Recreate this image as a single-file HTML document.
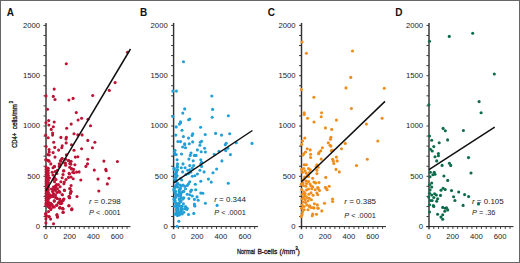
<!DOCTYPE html>
<html><head><meta charset="utf-8"><style>
html,body{margin:0;padding:0;background:#fff;}
body{width:520px;height:263px;overflow:hidden;}
svg{display:block;}
text{font-family:"Liberation Sans", sans-serif;fill:#222;}
.tl{font-size:7px;}
.lt{font-size:10px;font-weight:bold;fill:#111;}
.st{font-size:7px;}
.ax text{font-size:8px;fill:#222;stroke:#222;stroke-width:0.35px;}
</style></head><body>
<svg width="520" height="263" viewBox="0 0 520 263">
<rect x="0.5" y="0.5" width="519" height="262" fill="#fff" stroke="#666" stroke-width="1"/>
<line x1="46.00" y1="22.9" x2="46.00" y2="229.20" stroke="#333" stroke-width="1.45"/>
<line x1="43.10" y1="226.6" x2="130.50" y2="226.6" stroke="#222" stroke-width="1"/>
<line x1="43.50" y1="226.60" x2="45.70" y2="226.60" stroke="#222" stroke-width="0.9"/>
<line x1="43.50" y1="216.54" x2="45.70" y2="216.54" stroke="#222" stroke-width="0.9"/>
<line x1="43.50" y1="206.48" x2="45.70" y2="206.48" stroke="#222" stroke-width="0.9"/>
<line x1="43.50" y1="196.42" x2="45.70" y2="196.42" stroke="#222" stroke-width="0.9"/>
<line x1="43.50" y1="186.36" x2="45.70" y2="186.36" stroke="#222" stroke-width="0.9"/>
<line x1="43.50" y1="176.30" x2="45.70" y2="176.30" stroke="#222" stroke-width="0.9"/>
<line x1="43.50" y1="166.24" x2="45.70" y2="166.24" stroke="#222" stroke-width="0.9"/>
<line x1="43.50" y1="156.18" x2="45.70" y2="156.18" stroke="#222" stroke-width="0.9"/>
<line x1="43.50" y1="146.12" x2="45.70" y2="146.12" stroke="#222" stroke-width="0.9"/>
<line x1="43.50" y1="136.06" x2="45.70" y2="136.06" stroke="#222" stroke-width="0.9"/>
<line x1="43.50" y1="126.00" x2="45.70" y2="126.00" stroke="#222" stroke-width="0.9"/>
<line x1="43.50" y1="115.94" x2="45.70" y2="115.94" stroke="#222" stroke-width="0.9"/>
<line x1="43.50" y1="105.88" x2="45.70" y2="105.88" stroke="#222" stroke-width="0.9"/>
<line x1="43.50" y1="95.82" x2="45.70" y2="95.82" stroke="#222" stroke-width="0.9"/>
<line x1="43.50" y1="85.76" x2="45.70" y2="85.76" stroke="#222" stroke-width="0.9"/>
<line x1="43.50" y1="75.70" x2="45.70" y2="75.70" stroke="#222" stroke-width="0.9"/>
<line x1="43.50" y1="65.64" x2="45.70" y2="65.64" stroke="#222" stroke-width="0.9"/>
<line x1="43.50" y1="55.58" x2="45.70" y2="55.58" stroke="#222" stroke-width="0.9"/>
<line x1="43.50" y1="45.52" x2="45.70" y2="45.52" stroke="#222" stroke-width="0.9"/>
<line x1="43.50" y1="35.46" x2="45.70" y2="35.46" stroke="#222" stroke-width="0.9"/>
<line x1="43.50" y1="25.40" x2="45.70" y2="25.40" stroke="#222" stroke-width="0.9"/>
<line x1="50.77" y1="226.6" x2="50.77" y2="229.00" stroke="#222" stroke-width="0.8"/>
<line x1="55.54" y1="226.6" x2="55.54" y2="229.00" stroke="#222" stroke-width="0.8"/>
<line x1="60.30" y1="226.6" x2="60.30" y2="229.00" stroke="#222" stroke-width="0.8"/>
<line x1="65.07" y1="226.6" x2="65.07" y2="229.00" stroke="#222" stroke-width="0.8"/>
<line x1="69.84" y1="226.6" x2="69.84" y2="229.00" stroke="#222" stroke-width="0.8"/>
<line x1="74.61" y1="226.6" x2="74.61" y2="229.00" stroke="#222" stroke-width="0.8"/>
<line x1="79.38" y1="226.6" x2="79.38" y2="229.00" stroke="#222" stroke-width="0.8"/>
<line x1="84.14" y1="226.6" x2="84.14" y2="229.00" stroke="#222" stroke-width="0.8"/>
<line x1="88.91" y1="226.6" x2="88.91" y2="229.00" stroke="#222" stroke-width="0.8"/>
<line x1="93.68" y1="226.6" x2="93.68" y2="229.00" stroke="#222" stroke-width="0.8"/>
<line x1="98.45" y1="226.6" x2="98.45" y2="229.00" stroke="#222" stroke-width="0.8"/>
<line x1="103.22" y1="226.6" x2="103.22" y2="229.00" stroke="#222" stroke-width="0.8"/>
<line x1="107.98" y1="226.6" x2="107.98" y2="229.00" stroke="#222" stroke-width="0.8"/>
<line x1="112.75" y1="226.6" x2="112.75" y2="229.00" stroke="#222" stroke-width="0.8"/>
<line x1="117.52" y1="226.6" x2="117.52" y2="229.00" stroke="#222" stroke-width="0.8"/>
<line x1="122.29" y1="226.6" x2="122.29" y2="229.00" stroke="#222" stroke-width="0.8"/>
<line x1="127.06" y1="226.6" x2="127.06" y2="229.00" stroke="#222" stroke-width="0.8"/>
<text transform="translate(40.10,229.00) scale(1.1,1)" class="tl" text-anchor="end">0</text>
<text transform="translate(40.10,178.70) scale(1.1,1)" class="tl" text-anchor="end">500</text>
<text transform="translate(40.10,128.40) scale(1.1,1)" class="tl" text-anchor="end">1000</text>
<text transform="translate(40.10,78.10) scale(1.1,1)" class="tl" text-anchor="end">1500</text>
<text transform="translate(40.10,27.80) scale(1.1,1)" class="tl" text-anchor="end">2000</text>
<text transform="translate(45.70,238.60) scale(1.1,1)" class="tl" text-anchor="middle">0</text>
<text transform="translate(69.54,238.60) scale(1.1,1)" class="tl" text-anchor="middle">200</text>
<text transform="translate(93.38,238.60) scale(1.1,1)" class="tl" text-anchor="middle">400</text>
<text transform="translate(117.22,238.60) scale(1.1,1)" class="tl" text-anchor="middle">600</text>
<text x="6.80" y="15.6" class="lt">A</text>
<circle cx="127.5" cy="52.2" r="1.55" fill="#bc1234"/>
<circle cx="66.3" cy="63.7" r="1.55" fill="#bc1234"/>
<circle cx="115.1" cy="82.6" r="1.55" fill="#bc1234"/>
<circle cx="109.3" cy="90.4" r="1.55" fill="#bc1234"/>
<circle cx="54.2" cy="89.1" r="1.55" fill="#bc1234"/>
<circle cx="46" cy="95.9" r="1.55" fill="#bc1234"/>
<circle cx="53.3" cy="96.4" r="1.55" fill="#bc1234"/>
<circle cx="55" cy="99.5" r="1.55" fill="#bc1234"/>
<circle cx="68.9" cy="100" r="1.55" fill="#bc1234"/>
<circle cx="73.1" cy="98.4" r="1.55" fill="#bc1234"/>
<circle cx="92.7" cy="95.5" r="1.55" fill="#bc1234"/>
<circle cx="47.5" cy="109.3" r="1.55" fill="#bc1234"/>
<circle cx="76.3" cy="112.6" r="1.55" fill="#bc1234"/>
<circle cx="81.6" cy="118.2" r="1.55" fill="#bc1234"/>
<circle cx="78.1" cy="120" r="1.55" fill="#bc1234"/>
<circle cx="88.0" cy="119.2" r="1.55" fill="#bc1234"/>
<circle cx="48.7" cy="120.6" r="1.55" fill="#bc1234"/>
<circle cx="54.2" cy="122" r="1.55" fill="#bc1234"/>
<circle cx="45.9" cy="122.8" r="1.55" fill="#bc1234"/>
<circle cx="48.9" cy="125" r="1.55" fill="#bc1234"/>
<circle cx="53.3" cy="126.7" r="1.55" fill="#bc1234"/>
<circle cx="71.2" cy="124.1" r="1.55" fill="#bc1234"/>
<circle cx="90.5" cy="125.8" r="1.55" fill="#bc1234"/>
<circle cx="66.7" cy="128.3" r="1.55" fill="#bc1234"/>
<circle cx="51.2" cy="129.4" r="1.55" fill="#bc1234"/>
<circle cx="52.6" cy="133" r="1.55" fill="#bc1234"/>
<circle cx="52.6" cy="135.1" r="1.55" fill="#bc1234"/>
<circle cx="45.7" cy="135.1" r="1.55" fill="#bc1234"/>
<circle cx="48.2" cy="137.7" r="1.55" fill="#bc1234"/>
<circle cx="74" cy="133.8" r="1.55" fill="#bc1234"/>
<circle cx="77.8" cy="134.9" r="1.55" fill="#bc1234"/>
<circle cx="82.1" cy="134.9" r="1.55" fill="#bc1234"/>
<circle cx="60.9" cy="137.4" r="1.55" fill="#bc1234"/>
<circle cx="66.4" cy="137.2" r="1.55" fill="#bc1234"/>
<circle cx="66" cy="138.9" r="1.55" fill="#bc1234"/>
<circle cx="87.8" cy="140.4" r="1.55" fill="#bc1234"/>
<circle cx="94.9" cy="142.3" r="1.55" fill="#bc1234"/>
<circle cx="53.7" cy="142.3" r="1.55" fill="#bc1234"/>
<circle cx="66.2" cy="142.9" r="1.55" fill="#bc1234"/>
<circle cx="71.5" cy="144.8" r="1.55" fill="#bc1234"/>
<circle cx="62.2" cy="145.7" r="1.55" fill="#bc1234"/>
<circle cx="61.8" cy="147.8" r="1.55" fill="#bc1234"/>
<circle cx="54.8" cy="147.4" r="1.55" fill="#bc1234"/>
<circle cx="46.1" cy="146.5" r="1.55" fill="#bc1234"/>
<circle cx="49.1" cy="149.5" r="1.55" fill="#bc1234"/>
<circle cx="58.6" cy="150.1" r="1.55" fill="#bc1234"/>
<circle cx="74" cy="150.3" r="1.55" fill="#bc1234"/>
<circle cx="81.6" cy="148.7" r="1.55" fill="#bc1234"/>
<circle cx="92.4" cy="147.8" r="1.55" fill="#bc1234"/>
<circle cx="49.2" cy="152" r="1.55" fill="#bc1234"/>
<circle cx="53.1" cy="152.6" r="1.55" fill="#bc1234"/>
<circle cx="47.8" cy="154.6" r="1.55" fill="#bc1234"/>
<circle cx="49.2" cy="155" r="1.55" fill="#bc1234"/>
<circle cx="66.4" cy="154.8" r="1.55" fill="#bc1234"/>
<circle cx="55" cy="157.1" r="1.55" fill="#bc1234"/>
<circle cx="75.3" cy="157.1" r="1.55" fill="#bc1234"/>
<circle cx="77.8" cy="156.7" r="1.55" fill="#bc1234"/>
<circle cx="45.7" cy="159.7" r="1.55" fill="#bc1234"/>
<circle cx="48.7" cy="160.5" r="1.55" fill="#bc1234"/>
<circle cx="61.8" cy="158.8" r="1.55" fill="#bc1234"/>
<circle cx="65.6" cy="159.2" r="1.55" fill="#bc1234"/>
<circle cx="68.5" cy="160.5" r="1.55" fill="#bc1234"/>
<circle cx="71.1" cy="161.3" r="1.55" fill="#bc1234"/>
<circle cx="60.9" cy="161.3" r="1.55" fill="#bc1234"/>
<circle cx="87.8" cy="159.2" r="1.55" fill="#bc1234"/>
<circle cx="50.8" cy="163.9" r="1.55" fill="#bc1234"/>
<circle cx="64.7" cy="163" r="1.55" fill="#bc1234"/>
<circle cx="59.7" cy="164.3" r="1.55" fill="#bc1234"/>
<circle cx="69.8" cy="163.5" r="1.55" fill="#bc1234"/>
<circle cx="74.9" cy="164.7" r="1.55" fill="#bc1234"/>
<circle cx="87.5" cy="163.9" r="1.55" fill="#bc1234"/>
<circle cx="65.6" cy="165.2" r="1.55" fill="#bc1234"/>
<circle cx="103.9" cy="161.1" r="1.55" fill="#bc1234"/>
<circle cx="117.4" cy="161.5" r="1.55" fill="#bc1234"/>
<circle cx="54.2" cy="166.8" r="1.55" fill="#bc1234"/>
<circle cx="59.2" cy="166.4" r="1.55" fill="#bc1234"/>
<circle cx="63.9" cy="170.7" r="1.55" fill="#bc1234"/>
<circle cx="71.5" cy="168.5" r="1.55" fill="#bc1234"/>
<circle cx="73.6" cy="169.4" r="1.55" fill="#bc1234"/>
<circle cx="74" cy="172.8" r="1.55" fill="#bc1234"/>
<circle cx="76.6" cy="172.1" r="1.55" fill="#bc1234"/>
<circle cx="79.1" cy="171.9" r="1.55" fill="#bc1234"/>
<circle cx="63" cy="174.5" r="1.55" fill="#bc1234"/>
<circle cx="69.4" cy="174" r="1.55" fill="#bc1234"/>
<circle cx="62.2" cy="177.8" r="1.55" fill="#bc1234"/>
<circle cx="68.5" cy="177.4" r="1.55" fill="#bc1234"/>
<circle cx="71.1" cy="177" r="1.55" fill="#bc1234"/>
<circle cx="73.2" cy="178.7" r="1.55" fill="#bc1234"/>
<circle cx="66" cy="179.5" r="1.55" fill="#bc1234"/>
<circle cx="80.8" cy="180" r="1.55" fill="#bc1234"/>
<circle cx="53.3" cy="179.5" r="1.55" fill="#bc1234"/>
<circle cx="54.6" cy="181.7" r="1.55" fill="#bc1234"/>
<circle cx="60.9" cy="181.7" r="1.55" fill="#bc1234"/>
<circle cx="64.3" cy="182.1" r="1.55" fill="#bc1234"/>
<circle cx="63.9" cy="183.8" r="1.55" fill="#bc1234"/>
<circle cx="58.4" cy="184.6" r="1.55" fill="#bc1234"/>
<circle cx="71.1" cy="185.5" r="1.55" fill="#bc1234"/>
<circle cx="55" cy="186.3" r="1.55" fill="#bc1234"/>
<circle cx="60.1" cy="186.7" r="1.55" fill="#bc1234"/>
<circle cx="85.9" cy="166.4" r="1.55" fill="#bc1234"/>
<circle cx="94.3" cy="170.1" r="1.55" fill="#bc1234"/>
<circle cx="105.8" cy="169.4" r="1.55" fill="#bc1234"/>
<circle cx="106.2" cy="170.7" r="1.55" fill="#bc1234"/>
<circle cx="98" cy="179.1" r="1.55" fill="#bc1234"/>
<circle cx="109" cy="178.3" r="1.55" fill="#bc1234"/>
<circle cx="107.3" cy="183.9" r="1.55" fill="#bc1234"/>
<circle cx="55" cy="188.4" r="1.55" fill="#bc1234"/>
<circle cx="57.5" cy="188.8" r="1.55" fill="#bc1234"/>
<circle cx="59.2" cy="191.4" r="1.55" fill="#bc1234"/>
<circle cx="64.3" cy="190.1" r="1.55" fill="#bc1234"/>
<circle cx="70.2" cy="188.8" r="1.55" fill="#bc1234"/>
<circle cx="71.1" cy="191.4" r="1.55" fill="#bc1234"/>
<circle cx="70.6" cy="193.1" r="1.55" fill="#bc1234"/>
<circle cx="62.2" cy="194.8" r="1.55" fill="#bc1234"/>
<circle cx="69" cy="196.5" r="1.55" fill="#bc1234"/>
<circle cx="69.4" cy="197.7" r="1.55" fill="#bc1234"/>
<circle cx="77" cy="196.5" r="1.55" fill="#bc1234"/>
<circle cx="49.9" cy="197.3" r="1.55" fill="#bc1234"/>
<circle cx="52.5" cy="195.6" r="1.55" fill="#bc1234"/>
<circle cx="55.4" cy="197.3" r="1.55" fill="#bc1234"/>
<circle cx="57.1" cy="198.6" r="1.55" fill="#bc1234"/>
<circle cx="59.7" cy="199" r="1.55" fill="#bc1234"/>
<circle cx="63.9" cy="199" r="1.55" fill="#bc1234"/>
<circle cx="54.2" cy="201.1" r="1.55" fill="#bc1234"/>
<circle cx="60.9" cy="201.1" r="1.55" fill="#bc1234"/>
<circle cx="63" cy="200.7" r="1.55" fill="#bc1234"/>
<circle cx="58.4" cy="202.8" r="1.55" fill="#bc1234"/>
<circle cx="60.5" cy="203.7" r="1.55" fill="#bc1234"/>
<circle cx="56.7" cy="205.3" r="1.55" fill="#bc1234"/>
<circle cx="52" cy="204.9" r="1.55" fill="#bc1234"/>
<circle cx="69" cy="205.8" r="1.55" fill="#bc1234"/>
<circle cx="53.3" cy="207" r="1.55" fill="#bc1234"/>
<circle cx="59.7" cy="207.9" r="1.55" fill="#bc1234"/>
<circle cx="62.6" cy="208.3" r="1.55" fill="#bc1234"/>
<circle cx="71.9" cy="208.7" r="1.55" fill="#bc1234"/>
<circle cx="49.1" cy="207.5" r="1.55" fill="#bc1234"/>
<circle cx="50.8" cy="203.2" r="1.55" fill="#bc1234"/>
<circle cx="98.8" cy="191" r="1.55" fill="#bc1234"/>
<circle cx="60.1" cy="207.7" r="1.55" fill="#bc1234"/>
<circle cx="63" cy="209" r="1.55" fill="#bc1234"/>
<circle cx="71.7" cy="209.4" r="1.55" fill="#bc1234"/>
<circle cx="63.3" cy="212.3" r="1.55" fill="#bc1234"/>
<circle cx="57.1" cy="214.9" r="1.55" fill="#bc1234"/>
<circle cx="57.5" cy="217" r="1.55" fill="#bc1234"/>
<circle cx="49.1" cy="216.6" r="1.55" fill="#bc1234"/>
<circle cx="50.6" cy="219.1" r="1.55" fill="#bc1234"/>
<circle cx="53.5" cy="223.8" r="1.55" fill="#bc1234"/>
<circle cx="50.8" cy="209.4" r="1.55" fill="#bc1234"/>
<circle cx="45.9" cy="218.7" r="1.55" fill="#bc1234"/>
<circle cx="45.9" cy="222.9" r="1.55" fill="#bc1234"/>
<circle cx="46.5" cy="216" r="1.55" fill="#bc1234"/>
<circle cx="48.5" cy="211.5" r="1.55" fill="#bc1234"/>
<circle cx="47" cy="160" r="1.55" fill="#bc1234"/>
<circle cx="49" cy="161.2" r="1.55" fill="#bc1234"/>
<circle cx="54.5" cy="166.4" r="1.55" fill="#bc1234"/>
<circle cx="53" cy="167.8" r="1.55" fill="#bc1234"/>
<circle cx="52.2" cy="172.2" r="1.55" fill="#bc1234"/>
<circle cx="55.2" cy="171.5" r="1.55" fill="#bc1234"/>
<circle cx="60.5" cy="160.5" r="1.55" fill="#bc1234"/>
<circle cx="59.2" cy="163.8" r="1.55" fill="#bc1234"/>
<circle cx="59.8" cy="166" r="1.55" fill="#bc1234"/>
<circle cx="57.4" cy="170.3" r="1.55" fill="#bc1234"/>
<circle cx="56.8" cy="173.4" r="1.55" fill="#bc1234"/>
<circle cx="62.3" cy="158.6" r="1.55" fill="#bc1234"/>
<circle cx="65.4" cy="163" r="1.55" fill="#bc1234"/>
<circle cx="68.5" cy="160.5" r="1.55" fill="#bc1234"/>
<circle cx="70.3" cy="161.7" r="1.55" fill="#bc1234"/>
<circle cx="70.9" cy="164.2" r="1.55" fill="#bc1234"/>
<circle cx="63.5" cy="170.9" r="1.55" fill="#bc1234"/>
<circle cx="69.7" cy="167.2" r="1.55" fill="#bc1234"/>
<circle cx="71.5" cy="169" r="1.55" fill="#bc1234"/>
<circle cx="72.8" cy="172.2" r="1.55" fill="#bc1234"/>
<circle cx="69.1" cy="173.4" r="1.55" fill="#bc1234"/>
<circle cx="58.6" cy="191.7" r="1.55" fill="#bc1234"/>
<circle cx="59.8" cy="192.3" r="1.55" fill="#bc1234"/>
<circle cx="64.5" cy="190.5" r="1.55" fill="#bc1234"/>
<circle cx="62.3" cy="194.8" r="1.55" fill="#bc1234"/>
<circle cx="56.2" cy="197.8" r="1.55" fill="#bc1234"/>
<circle cx="53" cy="196.6" r="1.55" fill="#bc1234"/>
<circle cx="54.3" cy="200.9" r="1.55" fill="#bc1234"/>
<circle cx="59.8" cy="199.7" r="1.55" fill="#bc1234"/>
<circle cx="63.5" cy="199.4" r="1.55" fill="#bc1234"/>
<circle cx="61.7" cy="201.2" r="1.55" fill="#bc1234"/>
<circle cx="59.2" cy="202.8" r="1.55" fill="#bc1234"/>
<circle cx="69.7" cy="188.6" r="1.55" fill="#bc1234"/>
<circle cx="70.9" cy="191.7" r="1.55" fill="#bc1234"/>
<circle cx="70.3" cy="193.5" r="1.55" fill="#bc1234"/>
<circle cx="69.1" cy="196.6" r="1.55" fill="#bc1234"/>
<circle cx="69.7" cy="197.8" r="1.55" fill="#bc1234"/>
<circle cx="46.9" cy="202.8" r="1.55" fill="#bc1234"/>
<circle cx="49.4" cy="203.4" r="1.55" fill="#bc1234"/>
<circle cx="47.5" cy="192.5" r="1.55" fill="#bc1234"/>
<circle cx="49.5" cy="194.5" r="1.55" fill="#bc1234"/>
<circle cx="50" cy="197.2" r="1.55" fill="#bc1234"/>
<circle cx="51" cy="195.8" r="1.55" fill="#bc1234"/>
<circle cx="53.5" cy="189.5" r="1.55" fill="#bc1234"/>
<circle cx="55.5" cy="190.5" r="1.55" fill="#bc1234"/>
<circle cx="57" cy="192.5" r="1.55" fill="#bc1234"/>
<circle cx="54.3" cy="206.9" r="1.55" fill="#bc1234"/>
<circle cx="56.8" cy="205.1" r="1.55" fill="#bc1234"/>
<circle cx="59.8" cy="207.8" r="1.55" fill="#bc1234"/>
<circle cx="62.9" cy="208.8" r="1.55" fill="#bc1234"/>
<circle cx="59.2" cy="202.6" r="1.55" fill="#bc1234"/>
<circle cx="61.7" cy="203.2" r="1.55" fill="#bc1234"/>
<circle cx="62.9" cy="212.5" r="1.55" fill="#bc1234"/>
<circle cx="68.8" cy="205.7" r="1.55" fill="#bc1234"/>
<circle cx="71.8" cy="209.7" r="1.55" fill="#bc1234"/>
<circle cx="56.8" cy="214.9" r="1.55" fill="#bc1234"/>
<circle cx="57.4" cy="217.1" r="1.55" fill="#bc1234"/>
<circle cx="49.1" cy="216.8" r="1.55" fill="#bc1234"/>
<circle cx="45.7" cy="214.3" r="1.55" fill="#bc1234"/>
<circle cx="46" cy="204" r="1.55" fill="#bc1234"/>
<circle cx="48" cy="205" r="1.55" fill="#bc1234"/>
<circle cx="50" cy="206" r="1.55" fill="#bc1234"/>
<circle cx="52" cy="205" r="1.55" fill="#bc1234"/>
<circle cx="51" cy="208.5" r="1.55" fill="#bc1234"/>
<circle cx="53" cy="175" r="1.55" fill="#bc1234"/>
<circle cx="54.5" cy="177.5" r="1.55" fill="#bc1234"/>
<circle cx="56" cy="179.5" r="1.55" fill="#bc1234"/>
<circle cx="56.5" cy="184.5" r="1.55" fill="#bc1234"/>
<circle cx="53.5" cy="187" r="1.55" fill="#bc1234"/>
<circle cx="56" cy="186.5" r="1.55" fill="#bc1234"/>
<circle cx="49.5" cy="178" r="1.55" fill="#bc1234"/>
<circle cx="51.5" cy="189" r="1.55" fill="#bc1234"/>
<circle cx="52.5" cy="191.5" r="1.55" fill="#bc1234"/>
<circle cx="53.5" cy="193.5" r="1.55" fill="#bc1234"/>
<circle cx="55.5" cy="195" r="1.55" fill="#bc1234"/>
<circle cx="45.8" cy="213.2" r="1.55" fill="#bc1234"/>
<circle cx="46" cy="216" r="1.55" fill="#bc1234"/>
<circle cx="46.1" cy="167.0" r="1.55" fill="#bc1234"/>
<circle cx="48.3" cy="168.2" r="1.55" fill="#bc1234"/>
<circle cx="46.1" cy="169.4" r="1.55" fill="#bc1234"/>
<circle cx="48.3" cy="170.6" r="1.55" fill="#bc1234"/>
<circle cx="46.1" cy="171.8" r="1.55" fill="#bc1234"/>
<circle cx="48.3" cy="173.0" r="1.55" fill="#bc1234"/>
<circle cx="46.1" cy="174.2" r="1.55" fill="#bc1234"/>
<circle cx="48.3" cy="175.4" r="1.55" fill="#bc1234"/>
<circle cx="46.1" cy="176.6" r="1.55" fill="#bc1234"/>
<circle cx="48.3" cy="177.8" r="1.55" fill="#bc1234"/>
<circle cx="46.1" cy="179.0" r="1.55" fill="#bc1234"/>
<circle cx="48.3" cy="180.2" r="1.55" fill="#bc1234"/>
<circle cx="46.1" cy="181.4" r="1.55" fill="#bc1234"/>
<circle cx="48.3" cy="182.6" r="1.55" fill="#bc1234"/>
<circle cx="46.1" cy="183.8" r="1.55" fill="#bc1234"/>
<circle cx="48.3" cy="185.0" r="1.55" fill="#bc1234"/>
<circle cx="46.1" cy="186.2" r="1.55" fill="#bc1234"/>
<circle cx="48.3" cy="187.4" r="1.55" fill="#bc1234"/>
<circle cx="46.1" cy="188.6" r="1.55" fill="#bc1234"/>
<circle cx="48.3" cy="189.8" r="1.55" fill="#bc1234"/>
<circle cx="46.1" cy="191.0" r="1.55" fill="#bc1234"/>
<circle cx="48.3" cy="192.2" r="1.55" fill="#bc1234"/>
<circle cx="46.1" cy="193.4" r="1.55" fill="#bc1234"/>
<circle cx="48.3" cy="194.6" r="1.55" fill="#bc1234"/>
<circle cx="46.1" cy="195.8" r="1.55" fill="#bc1234"/>
<circle cx="48.3" cy="197.0" r="1.55" fill="#bc1234"/>
<circle cx="46.1" cy="198.2" r="1.55" fill="#bc1234"/>
<circle cx="48.3" cy="199.4" r="1.55" fill="#bc1234"/>
<circle cx="46.1" cy="200.6" r="1.55" fill="#bc1234"/>
<circle cx="48.3" cy="201.8" r="1.55" fill="#bc1234"/>
<circle cx="46.1" cy="203.0" r="1.55" fill="#bc1234"/>
<circle cx="48.3" cy="204.2" r="1.55" fill="#bc1234"/>
<circle cx="46.1" cy="205.4" r="1.55" fill="#bc1234"/>
<circle cx="48.3" cy="206.6" r="1.55" fill="#bc1234"/>
<line x1="46.0" y1="190.7" x2="130.5" y2="49.0" stroke="#111" stroke-width="1.5"/>
<text transform="translate(89.10,204.00) scale(1.14,1)" class="st" text-anchor="start"><tspan font-style="italic">r</tspan> = 0.298</text>
<text transform="translate(89.10,215.10) scale(1.05,1)" class="st" text-anchor="start"><tspan font-style="italic">P</tspan> &lt; .0001</text>
<line x1="173.60" y1="22.9" x2="173.60" y2="229.20" stroke="#333" stroke-width="1.45"/>
<line x1="170.70" y1="226.6" x2="258.10" y2="226.6" stroke="#222" stroke-width="1"/>
<line x1="171.10" y1="226.60" x2="173.30" y2="226.60" stroke="#222" stroke-width="0.9"/>
<line x1="171.10" y1="216.54" x2="173.30" y2="216.54" stroke="#222" stroke-width="0.9"/>
<line x1="171.10" y1="206.48" x2="173.30" y2="206.48" stroke="#222" stroke-width="0.9"/>
<line x1="171.10" y1="196.42" x2="173.30" y2="196.42" stroke="#222" stroke-width="0.9"/>
<line x1="171.10" y1="186.36" x2="173.30" y2="186.36" stroke="#222" stroke-width="0.9"/>
<line x1="171.10" y1="176.30" x2="173.30" y2="176.30" stroke="#222" stroke-width="0.9"/>
<line x1="171.10" y1="166.24" x2="173.30" y2="166.24" stroke="#222" stroke-width="0.9"/>
<line x1="171.10" y1="156.18" x2="173.30" y2="156.18" stroke="#222" stroke-width="0.9"/>
<line x1="171.10" y1="146.12" x2="173.30" y2="146.12" stroke="#222" stroke-width="0.9"/>
<line x1="171.10" y1="136.06" x2="173.30" y2="136.06" stroke="#222" stroke-width="0.9"/>
<line x1="171.10" y1="126.00" x2="173.30" y2="126.00" stroke="#222" stroke-width="0.9"/>
<line x1="171.10" y1="115.94" x2="173.30" y2="115.94" stroke="#222" stroke-width="0.9"/>
<line x1="171.10" y1="105.88" x2="173.30" y2="105.88" stroke="#222" stroke-width="0.9"/>
<line x1="171.10" y1="95.82" x2="173.30" y2="95.82" stroke="#222" stroke-width="0.9"/>
<line x1="171.10" y1="85.76" x2="173.30" y2="85.76" stroke="#222" stroke-width="0.9"/>
<line x1="171.10" y1="75.70" x2="173.30" y2="75.70" stroke="#222" stroke-width="0.9"/>
<line x1="171.10" y1="65.64" x2="173.30" y2="65.64" stroke="#222" stroke-width="0.9"/>
<line x1="171.10" y1="55.58" x2="173.30" y2="55.58" stroke="#222" stroke-width="0.9"/>
<line x1="171.10" y1="45.52" x2="173.30" y2="45.52" stroke="#222" stroke-width="0.9"/>
<line x1="171.10" y1="35.46" x2="173.30" y2="35.46" stroke="#222" stroke-width="0.9"/>
<line x1="171.10" y1="25.40" x2="173.30" y2="25.40" stroke="#222" stroke-width="0.9"/>
<line x1="178.37" y1="226.6" x2="178.37" y2="229.00" stroke="#222" stroke-width="0.8"/>
<line x1="183.14" y1="226.6" x2="183.14" y2="229.00" stroke="#222" stroke-width="0.8"/>
<line x1="187.90" y1="226.6" x2="187.90" y2="229.00" stroke="#222" stroke-width="0.8"/>
<line x1="192.67" y1="226.6" x2="192.67" y2="229.00" stroke="#222" stroke-width="0.8"/>
<line x1="197.44" y1="226.6" x2="197.44" y2="229.00" stroke="#222" stroke-width="0.8"/>
<line x1="202.21" y1="226.6" x2="202.21" y2="229.00" stroke="#222" stroke-width="0.8"/>
<line x1="206.98" y1="226.6" x2="206.98" y2="229.00" stroke="#222" stroke-width="0.8"/>
<line x1="211.74" y1="226.6" x2="211.74" y2="229.00" stroke="#222" stroke-width="0.8"/>
<line x1="216.51" y1="226.6" x2="216.51" y2="229.00" stroke="#222" stroke-width="0.8"/>
<line x1="221.28" y1="226.6" x2="221.28" y2="229.00" stroke="#222" stroke-width="0.8"/>
<line x1="226.05" y1="226.6" x2="226.05" y2="229.00" stroke="#222" stroke-width="0.8"/>
<line x1="230.82" y1="226.6" x2="230.82" y2="229.00" stroke="#222" stroke-width="0.8"/>
<line x1="235.58" y1="226.6" x2="235.58" y2="229.00" stroke="#222" stroke-width="0.8"/>
<line x1="240.35" y1="226.6" x2="240.35" y2="229.00" stroke="#222" stroke-width="0.8"/>
<line x1="245.12" y1="226.6" x2="245.12" y2="229.00" stroke="#222" stroke-width="0.8"/>
<line x1="249.89" y1="226.6" x2="249.89" y2="229.00" stroke="#222" stroke-width="0.8"/>
<line x1="254.66" y1="226.6" x2="254.66" y2="229.00" stroke="#222" stroke-width="0.8"/>
<text transform="translate(167.70,229.00) scale(1.1,1)" class="tl" text-anchor="end">0</text>
<text transform="translate(167.70,178.70) scale(1.1,1)" class="tl" text-anchor="end">500</text>
<text transform="translate(167.70,128.40) scale(1.1,1)" class="tl" text-anchor="end">1000</text>
<text transform="translate(167.70,78.10) scale(1.1,1)" class="tl" text-anchor="end">1500</text>
<text transform="translate(167.70,27.80) scale(1.1,1)" class="tl" text-anchor="end">2000</text>
<text transform="translate(173.30,238.60) scale(1.1,1)" class="tl" text-anchor="middle">0</text>
<text transform="translate(197.14,238.60) scale(1.1,1)" class="tl" text-anchor="middle">200</text>
<text transform="translate(220.98,238.60) scale(1.1,1)" class="tl" text-anchor="middle">400</text>
<text transform="translate(244.82,238.60) scale(1.1,1)" class="tl" text-anchor="middle">600</text>
<text x="139.90" y="15.6" class="lt">B</text>
<circle cx="183.5" cy="61.8" r="1.55" fill="#229fd6"/>
<circle cx="172.8" cy="91.1" r="1.55" fill="#229fd6"/>
<circle cx="176.4" cy="91.1" r="1.55" fill="#229fd6"/>
<circle cx="211.8" cy="96" r="1.55" fill="#229fd6"/>
<circle cx="184.7" cy="108.9" r="1.55" fill="#229fd6"/>
<circle cx="182.8" cy="113.1" r="1.55" fill="#229fd6"/>
<circle cx="212.6" cy="109.4" r="1.55" fill="#229fd6"/>
<circle cx="212.2" cy="117.2" r="1.55" fill="#229fd6"/>
<circle cx="172.9" cy="116.5" r="1.55" fill="#229fd6"/>
<circle cx="188.6" cy="119.8" r="1.55" fill="#229fd6"/>
<circle cx="189.8" cy="119.1" r="1.55" fill="#229fd6"/>
<circle cx="180.5" cy="121.8" r="1.55" fill="#229fd6"/>
<circle cx="228.3" cy="115.7" r="1.55" fill="#229fd6"/>
<circle cx="180.5" cy="122.8" r="1.55" fill="#229fd6"/>
<circle cx="179.4" cy="124.1" r="1.55" fill="#229fd6"/>
<circle cx="176.2" cy="126.9" r="1.55" fill="#229fd6"/>
<circle cx="200.6" cy="127.2" r="1.55" fill="#229fd6"/>
<circle cx="182" cy="130.3" r="1.55" fill="#229fd6"/>
<circle cx="192.7" cy="133.8" r="1.55" fill="#229fd6"/>
<circle cx="192.1" cy="135.5" r="1.55" fill="#229fd6"/>
<circle cx="205.2" cy="134.5" r="1.55" fill="#229fd6"/>
<circle cx="215.6" cy="133.4" r="1.55" fill="#229fd6"/>
<circle cx="175.8" cy="135.1" r="1.55" fill="#229fd6"/>
<circle cx="183.4" cy="136.6" r="1.55" fill="#229fd6"/>
<circle cx="188.5" cy="138.1" r="1.55" fill="#229fd6"/>
<circle cx="177.9" cy="141.5" r="1.55" fill="#229fd6"/>
<circle cx="180.5" cy="141.6" r="1.55" fill="#229fd6"/>
<circle cx="192.7" cy="141.9" r="1.55" fill="#229fd6"/>
<circle cx="200.3" cy="142.3" r="1.55" fill="#229fd6"/>
<circle cx="201.6" cy="141.3" r="1.55" fill="#229fd6"/>
<circle cx="184.7" cy="143.8" r="1.55" fill="#229fd6"/>
<circle cx="189.3" cy="143.8" r="1.55" fill="#229fd6"/>
<circle cx="221.5" cy="135.1" r="1.55" fill="#229fd6"/>
<circle cx="229.7" cy="133.8" r="1.55" fill="#229fd6"/>
<circle cx="226.2" cy="143.3" r="1.55" fill="#229fd6"/>
<circle cx="236.3" cy="142.7" r="1.55" fill="#229fd6"/>
<circle cx="252" cy="143.4" r="1.55" fill="#229fd6"/>
<circle cx="184.7" cy="144.6" r="1.55" fill="#229fd6"/>
<circle cx="199.9" cy="145.3" r="1.55" fill="#229fd6"/>
<circle cx="182.6" cy="147" r="1.55" fill="#229fd6"/>
<circle cx="185.5" cy="147.8" r="1.55" fill="#229fd6"/>
<circle cx="204.6" cy="148.2" r="1.55" fill="#229fd6"/>
<circle cx="197.4" cy="149.9" r="1.55" fill="#229fd6"/>
<circle cx="175" cy="150.3" r="1.55" fill="#229fd6"/>
<circle cx="174.5" cy="152.5" r="1.55" fill="#229fd6"/>
<circle cx="175" cy="154.6" r="1.55" fill="#229fd6"/>
<circle cx="176.2" cy="154.6" r="1.55" fill="#229fd6"/>
<circle cx="201.2" cy="151.8" r="1.55" fill="#229fd6"/>
<circle cx="205.4" cy="152" r="1.55" fill="#229fd6"/>
<circle cx="181.5" cy="154" r="1.55" fill="#229fd6"/>
<circle cx="191" cy="153.1" r="1.55" fill="#229fd6"/>
<circle cx="190.2" cy="155.4" r="1.55" fill="#229fd6"/>
<circle cx="194.4" cy="155.4" r="1.55" fill="#229fd6"/>
<circle cx="196.1" cy="155.4" r="1.55" fill="#229fd6"/>
<circle cx="214.3" cy="154.2" r="1.55" fill="#229fd6"/>
<circle cx="177.1" cy="159.7" r="1.55" fill="#229fd6"/>
<circle cx="188.9" cy="159.1" r="1.55" fill="#229fd6"/>
<circle cx="193.2" cy="160.8" r="1.55" fill="#229fd6"/>
<circle cx="200.8" cy="159.7" r="1.55" fill="#229fd6"/>
<circle cx="201.6" cy="162.2" r="1.55" fill="#229fd6"/>
<circle cx="177.5" cy="163.9" r="1.55" fill="#229fd6"/>
<circle cx="183" cy="163.9" r="1.55" fill="#229fd6"/>
<circle cx="189.8" cy="165.6" r="1.55" fill="#229fd6"/>
<circle cx="193.6" cy="165.6" r="1.55" fill="#229fd6"/>
<circle cx="200.8" cy="163.9" r="1.55" fill="#229fd6"/>
<circle cx="225.3" cy="144.7" r="1.55" fill="#229fd6"/>
<circle cx="227.8" cy="148.2" r="1.55" fill="#229fd6"/>
<circle cx="225.7" cy="150.6" r="1.55" fill="#229fd6"/>
<circle cx="219" cy="151.2" r="1.55" fill="#229fd6"/>
<circle cx="230.4" cy="154.6" r="1.55" fill="#229fd6"/>
<circle cx="221.9" cy="160.9" r="1.55" fill="#229fd6"/>
<circle cx="181.3" cy="167.7" r="1.55" fill="#229fd6"/>
<circle cx="185.1" cy="167.7" r="1.55" fill="#229fd6"/>
<circle cx="177.5" cy="169.8" r="1.55" fill="#229fd6"/>
<circle cx="182.6" cy="171.9" r="1.55" fill="#229fd6"/>
<circle cx="187.7" cy="170.2" r="1.55" fill="#229fd6"/>
<circle cx="189.8" cy="169.8" r="1.55" fill="#229fd6"/>
<circle cx="192.3" cy="168.1" r="1.55" fill="#229fd6"/>
<circle cx="199.9" cy="170.2" r="1.55" fill="#229fd6"/>
<circle cx="197.4" cy="174" r="1.55" fill="#229fd6"/>
<circle cx="194.8" cy="175.7" r="1.55" fill="#229fd6"/>
<circle cx="186" cy="174.5" r="1.55" fill="#229fd6"/>
<circle cx="188.5" cy="173.6" r="1.55" fill="#229fd6"/>
<circle cx="190.6" cy="172.3" r="1.55" fill="#229fd6"/>
<circle cx="192.3" cy="176.2" r="1.55" fill="#229fd6"/>
<circle cx="204.1" cy="171.9" r="1.55" fill="#229fd6"/>
<circle cx="213" cy="172.8" r="1.55" fill="#229fd6"/>
<circle cx="180.5" cy="178.7" r="1.55" fill="#229fd6"/>
<circle cx="181.7" cy="180" r="1.55" fill="#229fd6"/>
<circle cx="177.1" cy="175.7" r="1.55" fill="#229fd6"/>
<circle cx="208.4" cy="179.1" r="1.55" fill="#229fd6"/>
<circle cx="200.8" cy="181.2" r="1.55" fill="#229fd6"/>
<circle cx="211.3" cy="182.1" r="1.55" fill="#229fd6"/>
<circle cx="195.3" cy="184.2" r="1.55" fill="#229fd6"/>
<circle cx="189.8" cy="181.7" r="1.55" fill="#229fd6"/>
<circle cx="188.5" cy="183.8" r="1.55" fill="#229fd6"/>
<circle cx="187.2" cy="185.5" r="1.55" fill="#229fd6"/>
<circle cx="180" cy="185" r="1.55" fill="#229fd6"/>
<circle cx="183" cy="185" r="1.55" fill="#229fd6"/>
<circle cx="184.7" cy="186.3" r="1.55" fill="#229fd6"/>
<circle cx="176.2" cy="186.3" r="1.55" fill="#229fd6"/>
<circle cx="201.6" cy="166.4" r="1.55" fill="#229fd6"/>
<circle cx="216.6" cy="169" r="1.55" fill="#229fd6"/>
<circle cx="228.3" cy="183.3" r="1.55" fill="#229fd6"/>
<circle cx="185.5" cy="188.8" r="1.55" fill="#229fd6"/>
<circle cx="191.5" cy="190.1" r="1.55" fill="#229fd6"/>
<circle cx="190.6" cy="191.4" r="1.55" fill="#229fd6"/>
<circle cx="195.7" cy="189.7" r="1.55" fill="#229fd6"/>
<circle cx="182.6" cy="191.8" r="1.55" fill="#229fd6"/>
<circle cx="183.8" cy="191.4" r="1.55" fill="#229fd6"/>
<circle cx="200.8" cy="193.1" r="1.55" fill="#229fd6"/>
<circle cx="202.9" cy="193.2" r="1.55" fill="#229fd6"/>
<circle cx="187.2" cy="194.3" r="1.55" fill="#229fd6"/>
<circle cx="189.8" cy="194.8" r="1.55" fill="#229fd6"/>
<circle cx="192.3" cy="196" r="1.55" fill="#229fd6"/>
<circle cx="197" cy="196.9" r="1.55" fill="#229fd6"/>
<circle cx="183.8" cy="197.7" r="1.55" fill="#229fd6"/>
<circle cx="183" cy="199" r="1.55" fill="#229fd6"/>
<circle cx="188.9" cy="198.6" r="1.55" fill="#229fd6"/>
<circle cx="194.4" cy="199.4" r="1.55" fill="#229fd6"/>
<circle cx="198.2" cy="200.3" r="1.55" fill="#229fd6"/>
<circle cx="205.4" cy="203.2" r="1.55" fill="#229fd6"/>
<circle cx="194.4" cy="204.1" r="1.55" fill="#229fd6"/>
<circle cx="194.8" cy="205.8" r="1.55" fill="#229fd6"/>
<circle cx="180.5" cy="201.5" r="1.55" fill="#229fd6"/>
<circle cx="183.4" cy="203.7" r="1.55" fill="#229fd6"/>
<circle cx="185.5" cy="206.6" r="1.55" fill="#229fd6"/>
<circle cx="187.2" cy="208.3" r="1.55" fill="#229fd6"/>
<circle cx="184.7" cy="208.7" r="1.55" fill="#229fd6"/>
<circle cx="182.2" cy="206.2" r="1.55" fill="#229fd6"/>
<circle cx="194.8" cy="206" r="1.55" fill="#229fd6"/>
<circle cx="182.2" cy="209.4" r="1.55" fill="#229fd6"/>
<circle cx="186.8" cy="209.4" r="1.55" fill="#229fd6"/>
<circle cx="177.9" cy="211.9" r="1.55" fill="#229fd6"/>
<circle cx="183.8" cy="212.3" r="1.55" fill="#229fd6"/>
<circle cx="182.2" cy="214" r="1.55" fill="#229fd6"/>
<circle cx="188.5" cy="214.5" r="1.55" fill="#229fd6"/>
<circle cx="193.8" cy="213.4" r="1.55" fill="#229fd6"/>
<circle cx="178.8" cy="221.2" r="1.55" fill="#229fd6"/>
<circle cx="177.1" cy="226.3" r="1.55" fill="#229fd6"/>
<circle cx="217.1" cy="205.4" r="1.55" fill="#229fd6"/>
<circle cx="177.3" cy="166.0" r="1.55" fill="#229fd6"/>
<circle cx="177.3" cy="167.2" r="1.55" fill="#229fd6"/>
<circle cx="174.1" cy="168.3" r="1.55" fill="#229fd6"/>
<circle cx="174.2" cy="169.4" r="1.55" fill="#229fd6"/>
<circle cx="176.9" cy="170.6" r="1.55" fill="#229fd6"/>
<circle cx="176.5" cy="171.8" r="1.55" fill="#229fd6"/>
<circle cx="176.3" cy="172.9" r="1.55" fill="#229fd6"/>
<circle cx="175.0" cy="174.1" r="1.55" fill="#229fd6"/>
<circle cx="176.1" cy="175.2" r="1.55" fill="#229fd6"/>
<circle cx="176.1" cy="176.3" r="1.55" fill="#229fd6"/>
<circle cx="176.0" cy="177.5" r="1.55" fill="#229fd6"/>
<circle cx="174.5" cy="178.7" r="1.55" fill="#229fd6"/>
<circle cx="175.5" cy="179.8" r="1.55" fill="#229fd6"/>
<circle cx="175.3" cy="180.9" r="1.55" fill="#229fd6"/>
<circle cx="176.5" cy="182.1" r="1.55" fill="#229fd6"/>
<circle cx="177.5" cy="183.2" r="1.55" fill="#229fd6"/>
<circle cx="177.3" cy="184.4" r="1.55" fill="#229fd6"/>
<circle cx="175.9" cy="185.6" r="1.55" fill="#229fd6"/>
<circle cx="175.5" cy="186.7" r="1.55" fill="#229fd6"/>
<circle cx="174.9" cy="187.8" r="1.55" fill="#229fd6"/>
<circle cx="174.0" cy="189.0" r="1.55" fill="#229fd6"/>
<circle cx="174.0" cy="190.2" r="1.55" fill="#229fd6"/>
<circle cx="175.6" cy="191.3" r="1.55" fill="#229fd6"/>
<circle cx="175.0" cy="192.4" r="1.55" fill="#229fd6"/>
<circle cx="175.3" cy="193.6" r="1.55" fill="#229fd6"/>
<circle cx="177.1" cy="194.8" r="1.55" fill="#229fd6"/>
<circle cx="175.8" cy="195.9" r="1.55" fill="#229fd6"/>
<circle cx="175.9" cy="197.1" r="1.55" fill="#229fd6"/>
<circle cx="174.8" cy="198.2" r="1.55" fill="#229fd6"/>
<circle cx="174.0" cy="199.3" r="1.55" fill="#229fd6"/>
<circle cx="175.1" cy="200.5" r="1.55" fill="#229fd6"/>
<circle cx="174.4" cy="201.7" r="1.55" fill="#229fd6"/>
<circle cx="175.7" cy="202.8" r="1.55" fill="#229fd6"/>
<circle cx="177.5" cy="203.9" r="1.55" fill="#229fd6"/>
<circle cx="176.3" cy="205.1" r="1.55" fill="#229fd6"/>
<circle cx="174.6" cy="206.2" r="1.55" fill="#229fd6"/>
<circle cx="177.1" cy="207.4" r="1.55" fill="#229fd6"/>
<circle cx="176.8" cy="208.6" r="1.55" fill="#229fd6"/>
<circle cx="176.5" cy="209.7" r="1.55" fill="#229fd6"/>
<circle cx="177.2" cy="210.8" r="1.55" fill="#229fd6"/>
<circle cx="176.6" cy="212.0" r="1.55" fill="#229fd6"/>
<circle cx="176.7" cy="213.2" r="1.55" fill="#229fd6"/>
<circle cx="175.2" cy="214.3" r="1.55" fill="#229fd6"/>
<circle cx="177.4" cy="215.4" r="1.55" fill="#229fd6"/>
<circle cx="181.3" cy="186.0" r="1.55" fill="#229fd6"/>
<circle cx="177.7" cy="187.0" r="1.55" fill="#229fd6"/>
<circle cx="180.4" cy="188.0" r="1.55" fill="#229fd6"/>
<circle cx="180.2" cy="189.0" r="1.55" fill="#229fd6"/>
<circle cx="179.1" cy="190.0" r="1.55" fill="#229fd6"/>
<circle cx="179.4" cy="191.0" r="1.55" fill="#229fd6"/>
<circle cx="179.2" cy="192.0" r="1.55" fill="#229fd6"/>
<circle cx="181.2" cy="193.0" r="1.55" fill="#229fd6"/>
<circle cx="179.3" cy="194.0" r="1.55" fill="#229fd6"/>
<circle cx="180.7" cy="195.0" r="1.55" fill="#229fd6"/>
<circle cx="178.6" cy="196.0" r="1.55" fill="#229fd6"/>
<circle cx="181.0" cy="197.0" r="1.55" fill="#229fd6"/>
<circle cx="181.0" cy="198.0" r="1.55" fill="#229fd6"/>
<circle cx="179.1" cy="199.0" r="1.55" fill="#229fd6"/>
<circle cx="179.6" cy="200.0" r="1.55" fill="#229fd6"/>
<circle cx="181.1" cy="201.0" r="1.55" fill="#229fd6"/>
<circle cx="180.3" cy="202.0" r="1.55" fill="#229fd6"/>
<circle cx="179.2" cy="203.0" r="1.55" fill="#229fd6"/>
<circle cx="178.0" cy="204.0" r="1.55" fill="#229fd6"/>
<circle cx="178.5" cy="205.0" r="1.55" fill="#229fd6"/>
<circle cx="180.1" cy="206.0" r="1.55" fill="#229fd6"/>
<circle cx="177.7" cy="207.0" r="1.55" fill="#229fd6"/>
<circle cx="181.1" cy="208.0" r="1.55" fill="#229fd6"/>
<circle cx="178.2" cy="209.0" r="1.55" fill="#229fd6"/>
<circle cx="181.1" cy="210.0" r="1.55" fill="#229fd6"/>
<circle cx="178.4" cy="211.0" r="1.55" fill="#229fd6"/>
<circle cx="181.3" cy="212.0" r="1.55" fill="#229fd6"/>
<circle cx="180.2" cy="213.0" r="1.55" fill="#229fd6"/>
<circle cx="179.3" cy="214.0" r="1.55" fill="#229fd6"/>
<circle cx="179.3" cy="215.0" r="1.55" fill="#229fd6"/>
<line x1="173.6" y1="182.8" x2="252.4" y2="130.5" stroke="#111" stroke-width="1.5"/>
<text transform="translate(214.20,201.90) scale(1.14,1)" class="st" text-anchor="start"><tspan font-style="italic">r</tspan> = 0.344</text>
<text transform="translate(214.20,214.90) scale(1.05,1)" class="st" text-anchor="start"><tspan font-style="italic">P</tspan> &lt; .0001</text>
<line x1="301.50" y1="22.9" x2="301.50" y2="229.20" stroke="#333" stroke-width="1.45"/>
<line x1="298.60" y1="226.6" x2="386.00" y2="226.6" stroke="#222" stroke-width="1"/>
<line x1="299.00" y1="226.60" x2="301.20" y2="226.60" stroke="#222" stroke-width="0.9"/>
<line x1="299.00" y1="216.54" x2="301.20" y2="216.54" stroke="#222" stroke-width="0.9"/>
<line x1="299.00" y1="206.48" x2="301.20" y2="206.48" stroke="#222" stroke-width="0.9"/>
<line x1="299.00" y1="196.42" x2="301.20" y2="196.42" stroke="#222" stroke-width="0.9"/>
<line x1="299.00" y1="186.36" x2="301.20" y2="186.36" stroke="#222" stroke-width="0.9"/>
<line x1="299.00" y1="176.30" x2="301.20" y2="176.30" stroke="#222" stroke-width="0.9"/>
<line x1="299.00" y1="166.24" x2="301.20" y2="166.24" stroke="#222" stroke-width="0.9"/>
<line x1="299.00" y1="156.18" x2="301.20" y2="156.18" stroke="#222" stroke-width="0.9"/>
<line x1="299.00" y1="146.12" x2="301.20" y2="146.12" stroke="#222" stroke-width="0.9"/>
<line x1="299.00" y1="136.06" x2="301.20" y2="136.06" stroke="#222" stroke-width="0.9"/>
<line x1="299.00" y1="126.00" x2="301.20" y2="126.00" stroke="#222" stroke-width="0.9"/>
<line x1="299.00" y1="115.94" x2="301.20" y2="115.94" stroke="#222" stroke-width="0.9"/>
<line x1="299.00" y1="105.88" x2="301.20" y2="105.88" stroke="#222" stroke-width="0.9"/>
<line x1="299.00" y1="95.82" x2="301.20" y2="95.82" stroke="#222" stroke-width="0.9"/>
<line x1="299.00" y1="85.76" x2="301.20" y2="85.76" stroke="#222" stroke-width="0.9"/>
<line x1="299.00" y1="75.70" x2="301.20" y2="75.70" stroke="#222" stroke-width="0.9"/>
<line x1="299.00" y1="65.64" x2="301.20" y2="65.64" stroke="#222" stroke-width="0.9"/>
<line x1="299.00" y1="55.58" x2="301.20" y2="55.58" stroke="#222" stroke-width="0.9"/>
<line x1="299.00" y1="45.52" x2="301.20" y2="45.52" stroke="#222" stroke-width="0.9"/>
<line x1="299.00" y1="35.46" x2="301.20" y2="35.46" stroke="#222" stroke-width="0.9"/>
<line x1="299.00" y1="25.40" x2="301.20" y2="25.40" stroke="#222" stroke-width="0.9"/>
<line x1="306.27" y1="226.6" x2="306.27" y2="229.00" stroke="#222" stroke-width="0.8"/>
<line x1="311.04" y1="226.6" x2="311.04" y2="229.00" stroke="#222" stroke-width="0.8"/>
<line x1="315.80" y1="226.6" x2="315.80" y2="229.00" stroke="#222" stroke-width="0.8"/>
<line x1="320.57" y1="226.6" x2="320.57" y2="229.00" stroke="#222" stroke-width="0.8"/>
<line x1="325.34" y1="226.6" x2="325.34" y2="229.00" stroke="#222" stroke-width="0.8"/>
<line x1="330.11" y1="226.6" x2="330.11" y2="229.00" stroke="#222" stroke-width="0.8"/>
<line x1="334.88" y1="226.6" x2="334.88" y2="229.00" stroke="#222" stroke-width="0.8"/>
<line x1="339.64" y1="226.6" x2="339.64" y2="229.00" stroke="#222" stroke-width="0.8"/>
<line x1="344.41" y1="226.6" x2="344.41" y2="229.00" stroke="#222" stroke-width="0.8"/>
<line x1="349.18" y1="226.6" x2="349.18" y2="229.00" stroke="#222" stroke-width="0.8"/>
<line x1="353.95" y1="226.6" x2="353.95" y2="229.00" stroke="#222" stroke-width="0.8"/>
<line x1="358.72" y1="226.6" x2="358.72" y2="229.00" stroke="#222" stroke-width="0.8"/>
<line x1="363.48" y1="226.6" x2="363.48" y2="229.00" stroke="#222" stroke-width="0.8"/>
<line x1="368.25" y1="226.6" x2="368.25" y2="229.00" stroke="#222" stroke-width="0.8"/>
<line x1="373.02" y1="226.6" x2="373.02" y2="229.00" stroke="#222" stroke-width="0.8"/>
<line x1="377.79" y1="226.6" x2="377.79" y2="229.00" stroke="#222" stroke-width="0.8"/>
<line x1="382.56" y1="226.6" x2="382.56" y2="229.00" stroke="#222" stroke-width="0.8"/>
<text transform="translate(295.60,229.00) scale(1.1,1)" class="tl" text-anchor="end">0</text>
<text transform="translate(295.60,178.70) scale(1.1,1)" class="tl" text-anchor="end">500</text>
<text transform="translate(295.60,128.40) scale(1.1,1)" class="tl" text-anchor="end">1000</text>
<text transform="translate(295.60,78.10) scale(1.1,1)" class="tl" text-anchor="end">1500</text>
<text transform="translate(295.60,27.80) scale(1.1,1)" class="tl" text-anchor="end">2000</text>
<text transform="translate(301.20,238.60) scale(1.1,1)" class="tl" text-anchor="middle">0</text>
<text transform="translate(325.04,238.60) scale(1.1,1)" class="tl" text-anchor="middle">200</text>
<text transform="translate(348.88,238.60) scale(1.1,1)" class="tl" text-anchor="middle">400</text>
<text transform="translate(372.72,238.60) scale(1.1,1)" class="tl" text-anchor="middle">600</text>
<text x="267.70" y="15.6" class="lt">C</text>
<circle cx="302" cy="42" r="1.55" fill="#ee8d1c"/>
<circle cx="306.4" cy="53.3" r="1.55" fill="#ee8d1c"/>
<circle cx="352.5" cy="51" r="1.55" fill="#ee8d1c"/>
<circle cx="301.4" cy="89.6" r="1.55" fill="#ee8d1c"/>
<circle cx="313.9" cy="97.2" r="1.55" fill="#ee8d1c"/>
<circle cx="350.8" cy="77.4" r="1.55" fill="#ee8d1c"/>
<circle cx="346" cy="87.9" r="1.55" fill="#ee8d1c"/>
<circle cx="384.3" cy="88.3" r="1.55" fill="#ee8d1c"/>
<circle cx="304.2" cy="112.7" r="1.55" fill="#ee8d1c"/>
<circle cx="304.2" cy="114.4" r="1.55" fill="#ee8d1c"/>
<circle cx="307.6" cy="118.2" r="1.55" fill="#ee8d1c"/>
<circle cx="321.6" cy="112.7" r="1.55" fill="#ee8d1c"/>
<circle cx="321.2" cy="116.8" r="1.55" fill="#ee8d1c"/>
<circle cx="336.4" cy="120.1" r="1.55" fill="#ee8d1c"/>
<circle cx="314" cy="122" r="1.55" fill="#ee8d1c"/>
<circle cx="351.4" cy="108.5" r="1.55" fill="#ee8d1c"/>
<circle cx="382.1" cy="118.2" r="1.55" fill="#ee8d1c"/>
<circle cx="325.4" cy="127.9" r="1.55" fill="#ee8d1c"/>
<circle cx="331.7" cy="129.4" r="1.55" fill="#ee8d1c"/>
<circle cx="330.9" cy="137.2" r="1.55" fill="#ee8d1c"/>
<circle cx="330.5" cy="139.3" r="1.55" fill="#ee8d1c"/>
<circle cx="304.7" cy="138.1" r="1.55" fill="#ee8d1c"/>
<circle cx="302.5" cy="141" r="1.55" fill="#ee8d1c"/>
<circle cx="328.3" cy="142.7" r="1.55" fill="#ee8d1c"/>
<circle cx="366.4" cy="124.1" r="1.55" fill="#ee8d1c"/>
<circle cx="377.8" cy="141" r="1.55" fill="#ee8d1c"/>
<circle cx="345.3" cy="143.4" r="1.55" fill="#ee8d1c"/>
<circle cx="301.7" cy="144.4" r="1.55" fill="#ee8d1c"/>
<circle cx="307.2" cy="148.7" r="1.55" fill="#ee8d1c"/>
<circle cx="310.2" cy="149.9" r="1.55" fill="#ee8d1c"/>
<circle cx="305.5" cy="152" r="1.55" fill="#ee8d1c"/>
<circle cx="303.8" cy="153.7" r="1.55" fill="#ee8d1c"/>
<circle cx="303" cy="155" r="1.55" fill="#ee8d1c"/>
<circle cx="310.6" cy="154.2" r="1.55" fill="#ee8d1c"/>
<circle cx="310.6" cy="157.5" r="1.55" fill="#ee8d1c"/>
<circle cx="322.4" cy="147.8" r="1.55" fill="#ee8d1c"/>
<circle cx="320.7" cy="150.8" r="1.55" fill="#ee8d1c"/>
<circle cx="319" cy="152.5" r="1.55" fill="#ee8d1c"/>
<circle cx="318.6" cy="153.7" r="1.55" fill="#ee8d1c"/>
<circle cx="321.2" cy="159.1" r="1.55" fill="#ee8d1c"/>
<circle cx="330" cy="145.3" r="1.55" fill="#ee8d1c"/>
<circle cx="330.9" cy="146.1" r="1.55" fill="#ee8d1c"/>
<circle cx="331.3" cy="150.8" r="1.55" fill="#ee8d1c"/>
<circle cx="332.6" cy="150.3" r="1.55" fill="#ee8d1c"/>
<circle cx="341.5" cy="148.7" r="1.55" fill="#ee8d1c"/>
<circle cx="336.4" cy="157.1" r="1.55" fill="#ee8d1c"/>
<circle cx="332.6" cy="159.2" r="1.55" fill="#ee8d1c"/>
<circle cx="333.4" cy="161.3" r="1.55" fill="#ee8d1c"/>
<circle cx="333.8" cy="163.5" r="1.55" fill="#ee8d1c"/>
<circle cx="337.2" cy="160.9" r="1.55" fill="#ee8d1c"/>
<circle cx="304.2" cy="164.7" r="1.55" fill="#ee8d1c"/>
<circle cx="306.3" cy="164.7" r="1.55" fill="#ee8d1c"/>
<circle cx="316.9" cy="164.7" r="1.55" fill="#ee8d1c"/>
<circle cx="367.3" cy="159.2" r="1.55" fill="#ee8d1c"/>
<circle cx="356.5" cy="165.6" r="1.55" fill="#ee8d1c"/>
<circle cx="308.5" cy="168.5" r="1.55" fill="#ee8d1c"/>
<circle cx="310.2" cy="169.8" r="1.55" fill="#ee8d1c"/>
<circle cx="316.1" cy="166.8" r="1.55" fill="#ee8d1c"/>
<circle cx="318.2" cy="167.3" r="1.55" fill="#ee8d1c"/>
<circle cx="316.9" cy="170.2" r="1.55" fill="#ee8d1c"/>
<circle cx="316.9" cy="173.6" r="1.55" fill="#ee8d1c"/>
<circle cx="312.7" cy="178.3" r="1.55" fill="#ee8d1c"/>
<circle cx="325.8" cy="177.4" r="1.55" fill="#ee8d1c"/>
<circle cx="336" cy="169.4" r="1.55" fill="#ee8d1c"/>
<circle cx="339.3" cy="171.9" r="1.55" fill="#ee8d1c"/>
<circle cx="314" cy="182.1" r="1.55" fill="#ee8d1c"/>
<circle cx="315.7" cy="182.9" r="1.55" fill="#ee8d1c"/>
<circle cx="319" cy="182.5" r="1.55" fill="#ee8d1c"/>
<circle cx="311" cy="185.9" r="1.55" fill="#ee8d1c"/>
<circle cx="312.7" cy="186.7" r="1.55" fill="#ee8d1c"/>
<circle cx="325.4" cy="187.2" r="1.55" fill="#ee8d1c"/>
<circle cx="329.2" cy="186.3" r="1.55" fill="#ee8d1c"/>
<circle cx="317.8" cy="187.6" r="1.55" fill="#ee8d1c"/>
<circle cx="301.7" cy="169.4" r="1.55" fill="#ee8d1c"/>
<circle cx="303.8" cy="168.5" r="1.55" fill="#ee8d1c"/>
<circle cx="305.1" cy="171.1" r="1.55" fill="#ee8d1c"/>
<circle cx="302.5" cy="172.3" r="1.55" fill="#ee8d1c"/>
<circle cx="306.3" cy="173.2" r="1.55" fill="#ee8d1c"/>
<circle cx="307.6" cy="175.3" r="1.55" fill="#ee8d1c"/>
<circle cx="304.7" cy="177" r="1.55" fill="#ee8d1c"/>
<circle cx="303.4" cy="179.5" r="1.55" fill="#ee8d1c"/>
<circle cx="305.9" cy="180.8" r="1.55" fill="#ee8d1c"/>
<circle cx="303" cy="182.9" r="1.55" fill="#ee8d1c"/>
<circle cx="301.3" cy="184.2" r="1.55" fill="#ee8d1c"/>
<circle cx="303.4" cy="185.5" r="1.55" fill="#ee8d1c"/>
<circle cx="305.9" cy="186.3" r="1.55" fill="#ee8d1c"/>
<circle cx="308.5" cy="176.5" r="1.55" fill="#ee8d1c"/>
<circle cx="309.5" cy="172.5" r="1.55" fill="#ee8d1c"/>
<circle cx="306.5" cy="183.5" r="1.55" fill="#ee8d1c"/>
<circle cx="308.5" cy="181.5" r="1.55" fill="#ee8d1c"/>
<circle cx="310" cy="184" r="1.55" fill="#ee8d1c"/>
<circle cx="311.8" cy="188.8" r="1.55" fill="#ee8d1c"/>
<circle cx="315.2" cy="189.7" r="1.55" fill="#ee8d1c"/>
<circle cx="318.2" cy="188.4" r="1.55" fill="#ee8d1c"/>
<circle cx="319.5" cy="190.5" r="1.55" fill="#ee8d1c"/>
<circle cx="326.2" cy="188.4" r="1.55" fill="#ee8d1c"/>
<circle cx="327.1" cy="189.7" r="1.55" fill="#ee8d1c"/>
<circle cx="311" cy="192.7" r="1.55" fill="#ee8d1c"/>
<circle cx="316.9" cy="193.1" r="1.55" fill="#ee8d1c"/>
<circle cx="317.8" cy="194.8" r="1.55" fill="#ee8d1c"/>
<circle cx="308.9" cy="194.3" r="1.55" fill="#ee8d1c"/>
<circle cx="313.1" cy="195.2" r="1.55" fill="#ee8d1c"/>
<circle cx="303.8" cy="191.8" r="1.55" fill="#ee8d1c"/>
<circle cx="302.5" cy="194.3" r="1.55" fill="#ee8d1c"/>
<circle cx="305.1" cy="195.6" r="1.55" fill="#ee8d1c"/>
<circle cx="303.4" cy="197.3" r="1.55" fill="#ee8d1c"/>
<circle cx="302.1" cy="199" r="1.55" fill="#ee8d1c"/>
<circle cx="309.3" cy="198.2" r="1.55" fill="#ee8d1c"/>
<circle cx="311.4" cy="199.8" r="1.55" fill="#ee8d1c"/>
<circle cx="308" cy="200.7" r="1.55" fill="#ee8d1c"/>
<circle cx="332.6" cy="199" r="1.55" fill="#ee8d1c"/>
<circle cx="332.6" cy="201.5" r="1.55" fill="#ee8d1c"/>
<circle cx="324.5" cy="203.2" r="1.55" fill="#ee8d1c"/>
<circle cx="314.4" cy="203.7" r="1.55" fill="#ee8d1c"/>
<circle cx="317.3" cy="204.9" r="1.55" fill="#ee8d1c"/>
<circle cx="306.8" cy="204.9" r="1.55" fill="#ee8d1c"/>
<circle cx="309.7" cy="205.8" r="1.55" fill="#ee8d1c"/>
<circle cx="311" cy="207.5" r="1.55" fill="#ee8d1c"/>
<circle cx="314" cy="207.9" r="1.55" fill="#ee8d1c"/>
<circle cx="318.2" cy="208.3" r="1.55" fill="#ee8d1c"/>
<circle cx="301.7" cy="208.3" r="1.55" fill="#ee8d1c"/>
<circle cx="306.5" cy="190" r="1.55" fill="#ee8d1c"/>
<circle cx="308.5" cy="189" r="1.55" fill="#ee8d1c"/>
<circle cx="301.8" cy="189.5" r="1.55" fill="#ee8d1c"/>
<circle cx="305" cy="193.5" r="1.55" fill="#ee8d1c"/>
<circle cx="307" cy="197.5" r="1.55" fill="#ee8d1c"/>
<circle cx="305" cy="199.5" r="1.55" fill="#ee8d1c"/>
<circle cx="303" cy="202" r="1.55" fill="#ee8d1c"/>
<circle cx="305.5" cy="202.5" r="1.55" fill="#ee8d1c"/>
<circle cx="302" cy="205" r="1.55" fill="#ee8d1c"/>
<circle cx="304" cy="206.5" r="1.55" fill="#ee8d1c"/>
<circle cx="309.3" cy="206.4" r="1.55" fill="#ee8d1c"/>
<circle cx="313.1" cy="207.7" r="1.55" fill="#ee8d1c"/>
<circle cx="317.8" cy="208.1" r="1.55" fill="#ee8d1c"/>
<circle cx="308" cy="209.8" r="1.55" fill="#ee8d1c"/>
<circle cx="304.2" cy="209.8" r="1.55" fill="#ee8d1c"/>
<circle cx="302.5" cy="211.9" r="1.55" fill="#ee8d1c"/>
<circle cx="302.1" cy="214.5" r="1.55" fill="#ee8d1c"/>
<circle cx="301.3" cy="216.6" r="1.55" fill="#ee8d1c"/>
<circle cx="321.8" cy="210.9" r="1.55" fill="#ee8d1c"/>
<circle cx="312.7" cy="214" r="1.55" fill="#ee8d1c"/>
<circle cx="312.3" cy="215.7" r="1.55" fill="#ee8d1c"/>
<circle cx="316.5" cy="214.3" r="1.55" fill="#ee8d1c"/>
<line x1="301.5" y1="181.8" x2="385.0" y2="101.4" stroke="#111" stroke-width="1.5"/>
<text transform="translate(344.30,204.00) scale(1.14,1)" class="st" text-anchor="start"><tspan font-style="italic">r</tspan> = 0.385</text>
<text transform="translate(344.30,217.50) scale(1.05,1)" class="st" text-anchor="start"><tspan font-style="italic">P</tspan> &lt; .0001</text>
<line x1="429.00" y1="22.9" x2="429.00" y2="229.20" stroke="#333" stroke-width="1.45"/>
<line x1="426.10" y1="226.6" x2="513.50" y2="226.6" stroke="#222" stroke-width="1"/>
<line x1="426.50" y1="226.60" x2="428.70" y2="226.60" stroke="#222" stroke-width="0.9"/>
<line x1="426.50" y1="216.54" x2="428.70" y2="216.54" stroke="#222" stroke-width="0.9"/>
<line x1="426.50" y1="206.48" x2="428.70" y2="206.48" stroke="#222" stroke-width="0.9"/>
<line x1="426.50" y1="196.42" x2="428.70" y2="196.42" stroke="#222" stroke-width="0.9"/>
<line x1="426.50" y1="186.36" x2="428.70" y2="186.36" stroke="#222" stroke-width="0.9"/>
<line x1="426.50" y1="176.30" x2="428.70" y2="176.30" stroke="#222" stroke-width="0.9"/>
<line x1="426.50" y1="166.24" x2="428.70" y2="166.24" stroke="#222" stroke-width="0.9"/>
<line x1="426.50" y1="156.18" x2="428.70" y2="156.18" stroke="#222" stroke-width="0.9"/>
<line x1="426.50" y1="146.12" x2="428.70" y2="146.12" stroke="#222" stroke-width="0.9"/>
<line x1="426.50" y1="136.06" x2="428.70" y2="136.06" stroke="#222" stroke-width="0.9"/>
<line x1="426.50" y1="126.00" x2="428.70" y2="126.00" stroke="#222" stroke-width="0.9"/>
<line x1="426.50" y1="115.94" x2="428.70" y2="115.94" stroke="#222" stroke-width="0.9"/>
<line x1="426.50" y1="105.88" x2="428.70" y2="105.88" stroke="#222" stroke-width="0.9"/>
<line x1="426.50" y1="95.82" x2="428.70" y2="95.82" stroke="#222" stroke-width="0.9"/>
<line x1="426.50" y1="85.76" x2="428.70" y2="85.76" stroke="#222" stroke-width="0.9"/>
<line x1="426.50" y1="75.70" x2="428.70" y2="75.70" stroke="#222" stroke-width="0.9"/>
<line x1="426.50" y1="65.64" x2="428.70" y2="65.64" stroke="#222" stroke-width="0.9"/>
<line x1="426.50" y1="55.58" x2="428.70" y2="55.58" stroke="#222" stroke-width="0.9"/>
<line x1="426.50" y1="45.52" x2="428.70" y2="45.52" stroke="#222" stroke-width="0.9"/>
<line x1="426.50" y1="35.46" x2="428.70" y2="35.46" stroke="#222" stroke-width="0.9"/>
<line x1="426.50" y1="25.40" x2="428.70" y2="25.40" stroke="#222" stroke-width="0.9"/>
<line x1="433.77" y1="226.6" x2="433.77" y2="229.00" stroke="#222" stroke-width="0.8"/>
<line x1="438.54" y1="226.6" x2="438.54" y2="229.00" stroke="#222" stroke-width="0.8"/>
<line x1="443.30" y1="226.6" x2="443.30" y2="229.00" stroke="#222" stroke-width="0.8"/>
<line x1="448.07" y1="226.6" x2="448.07" y2="229.00" stroke="#222" stroke-width="0.8"/>
<line x1="452.84" y1="226.6" x2="452.84" y2="229.00" stroke="#222" stroke-width="0.8"/>
<line x1="457.61" y1="226.6" x2="457.61" y2="229.00" stroke="#222" stroke-width="0.8"/>
<line x1="462.38" y1="226.6" x2="462.38" y2="229.00" stroke="#222" stroke-width="0.8"/>
<line x1="467.14" y1="226.6" x2="467.14" y2="229.00" stroke="#222" stroke-width="0.8"/>
<line x1="471.91" y1="226.6" x2="471.91" y2="229.00" stroke="#222" stroke-width="0.8"/>
<line x1="476.68" y1="226.6" x2="476.68" y2="229.00" stroke="#222" stroke-width="0.8"/>
<line x1="481.45" y1="226.6" x2="481.45" y2="229.00" stroke="#222" stroke-width="0.8"/>
<line x1="486.22" y1="226.6" x2="486.22" y2="229.00" stroke="#222" stroke-width="0.8"/>
<line x1="490.98" y1="226.6" x2="490.98" y2="229.00" stroke="#222" stroke-width="0.8"/>
<line x1="495.75" y1="226.6" x2="495.75" y2="229.00" stroke="#222" stroke-width="0.8"/>
<line x1="500.52" y1="226.6" x2="500.52" y2="229.00" stroke="#222" stroke-width="0.8"/>
<line x1="505.29" y1="226.6" x2="505.29" y2="229.00" stroke="#222" stroke-width="0.8"/>
<line x1="510.06" y1="226.6" x2="510.06" y2="229.00" stroke="#222" stroke-width="0.8"/>
<text transform="translate(423.10,229.00) scale(1.1,1)" class="tl" text-anchor="end">0</text>
<text transform="translate(423.10,178.70) scale(1.1,1)" class="tl" text-anchor="end">500</text>
<text transform="translate(423.10,128.40) scale(1.1,1)" class="tl" text-anchor="end">1000</text>
<text transform="translate(423.10,78.10) scale(1.1,1)" class="tl" text-anchor="end">1500</text>
<text transform="translate(423.10,27.80) scale(1.1,1)" class="tl" text-anchor="end">2000</text>
<text transform="translate(428.70,238.60) scale(1.1,1)" class="tl" text-anchor="middle">0</text>
<text transform="translate(452.54,238.60) scale(1.1,1)" class="tl" text-anchor="middle">200</text>
<text transform="translate(476.38,238.60) scale(1.1,1)" class="tl" text-anchor="middle">400</text>
<text transform="translate(500.22,238.60) scale(1.1,1)" class="tl" text-anchor="middle">600</text>
<text x="395.30" y="15.6" class="lt">D</text>
<circle cx="429.5" cy="41.2" r="1.55" fill="#0c6b4c"/>
<circle cx="449.3" cy="36.4" r="1.55" fill="#0c6b4c"/>
<circle cx="472.7" cy="33.2" r="1.55" fill="#0c6b4c"/>
<circle cx="494.3" cy="74" r="1.55" fill="#0c6b4c"/>
<circle cx="479.1" cy="101.6" r="1.55" fill="#0c6b4c"/>
<circle cx="481.1" cy="112.7" r="1.55" fill="#0c6b4c"/>
<circle cx="428.9" cy="104.7" r="1.55" fill="#0c6b4c"/>
<circle cx="443.1" cy="128.4" r="1.55" fill="#0c6b4c"/>
<circle cx="445.3" cy="130.8" r="1.55" fill="#0c6b4c"/>
<circle cx="463.4" cy="130.5" r="1.55" fill="#0c6b4c"/>
<circle cx="429.5" cy="136" r="1.55" fill="#0c6b4c"/>
<circle cx="431.7" cy="140.3" r="1.55" fill="#0c6b4c"/>
<circle cx="439.2" cy="142.8" r="1.55" fill="#0c6b4c"/>
<circle cx="447.6" cy="139.9" r="1.55" fill="#0c6b4c"/>
<circle cx="433.8" cy="146.6" r="1.55" fill="#0c6b4c"/>
<circle cx="430.4" cy="149.3" r="1.55" fill="#0c6b4c"/>
<circle cx="432.2" cy="151" r="1.55" fill="#0c6b4c"/>
<circle cx="438.4" cy="153.5" r="1.55" fill="#0c6b4c"/>
<circle cx="438.4" cy="155.7" r="1.55" fill="#0c6b4c"/>
<circle cx="435" cy="156.8" r="1.55" fill="#0c6b4c"/>
<circle cx="436.7" cy="160.9" r="1.55" fill="#0c6b4c"/>
<circle cx="468.5" cy="157.6" r="1.55" fill="#0c6b4c"/>
<circle cx="442.1" cy="165.4" r="1.55" fill="#0c6b4c"/>
<circle cx="449.4" cy="163.3" r="1.55" fill="#0c6b4c"/>
<circle cx="450.7" cy="165.4" r="1.55" fill="#0c6b4c"/>
<circle cx="430.4" cy="172.2" r="1.55" fill="#0c6b4c"/>
<circle cx="434.2" cy="172.2" r="1.55" fill="#0c6b4c"/>
<circle cx="435" cy="174.3" r="1.55" fill="#0c6b4c"/>
<circle cx="432.9" cy="174.7" r="1.55" fill="#0c6b4c"/>
<circle cx="430" cy="176.8" r="1.55" fill="#0c6b4c"/>
<circle cx="443.9" cy="176" r="1.55" fill="#0c6b4c"/>
<circle cx="447.7" cy="180.4" r="1.55" fill="#0c6b4c"/>
<circle cx="471" cy="173" r="1.55" fill="#0c6b4c"/>
<circle cx="431.7" cy="183" r="1.55" fill="#0c6b4c"/>
<circle cx="429.5" cy="184.8" r="1.55" fill="#0c6b4c"/>
<circle cx="431.7" cy="187" r="1.55" fill="#0c6b4c"/>
<circle cx="430" cy="189.9" r="1.55" fill="#0c6b4c"/>
<circle cx="441" cy="190.3" r="1.55" fill="#0c6b4c"/>
<circle cx="443.1" cy="188.2" r="1.55" fill="#0c6b4c"/>
<circle cx="445.2" cy="189.5" r="1.55" fill="#0c6b4c"/>
<circle cx="451.5" cy="190.6" r="1.55" fill="#0c6b4c"/>
<circle cx="458.7" cy="192" r="1.55" fill="#0c6b4c"/>
<circle cx="464.6" cy="194.6" r="1.55" fill="#0c6b4c"/>
<circle cx="468.6" cy="196.6" r="1.55" fill="#0c6b4c"/>
<circle cx="429.5" cy="193.3" r="1.55" fill="#0c6b4c"/>
<circle cx="431.7" cy="195" r="1.55" fill="#0c6b4c"/>
<circle cx="434.6" cy="193.7" r="1.55" fill="#0c6b4c"/>
<circle cx="436.3" cy="195" r="1.55" fill="#0c6b4c"/>
<circle cx="440.5" cy="195.4" r="1.55" fill="#0c6b4c"/>
<circle cx="433.8" cy="197.5" r="1.55" fill="#0c6b4c"/>
<circle cx="428.7" cy="197.1" r="1.55" fill="#0c6b4c"/>
<circle cx="437.6" cy="198.8" r="1.55" fill="#0c6b4c"/>
<circle cx="436.7" cy="201.3" r="1.55" fill="#0c6b4c"/>
<circle cx="432.1" cy="200.5" r="1.55" fill="#0c6b4c"/>
<circle cx="430" cy="200.5" r="1.55" fill="#0c6b4c"/>
<circle cx="453.6" cy="196.7" r="1.55" fill="#0c6b4c"/>
<circle cx="454.9" cy="200.5" r="1.55" fill="#0c6b4c"/>
<circle cx="429.5" cy="204.7" r="1.55" fill="#0c6b4c"/>
<circle cx="433.3" cy="205.6" r="1.55" fill="#0c6b4c"/>
<circle cx="463.1" cy="205.4" r="1.55" fill="#0c6b4c"/>
<circle cx="478.5" cy="204" r="1.55" fill="#0c6b4c"/>
<circle cx="433.8" cy="206.4" r="1.55" fill="#0c6b4c"/>
<circle cx="442.7" cy="207.4" r="1.55" fill="#0c6b4c"/>
<circle cx="445.2" cy="208.2" r="1.55" fill="#0c6b4c"/>
<circle cx="446.5" cy="207.8" r="1.55" fill="#0c6b4c"/>
<circle cx="447.7" cy="209.9" r="1.55" fill="#0c6b4c"/>
<circle cx="444.8" cy="211.2" r="1.55" fill="#0c6b4c"/>
<circle cx="429.5" cy="212" r="1.55" fill="#0c6b4c"/>
<circle cx="437.6" cy="214.2" r="1.55" fill="#0c6b4c"/>
<circle cx="442.7" cy="214.8" r="1.55" fill="#0c6b4c"/>
<circle cx="441" cy="217.1" r="1.55" fill="#0c6b4c"/>
<circle cx="442.7" cy="219.2" r="1.55" fill="#0c6b4c"/>
<line x1="429.0" y1="169.6" x2="494.7" y2="127.1" stroke="#111" stroke-width="1.5"/>
<text transform="translate(472.00,204.00) scale(1.14,1)" class="st" text-anchor="start"><tspan font-style="italic">r</tspan> = 0.105</text>
<text transform="translate(472.00,214.90) scale(1.05,1)" class="st" text-anchor="start"><tspan font-style="italic">P</tspan> = .36</text>
<g class="ax">
<text transform="translate(16.9,147.8) rotate(-90) scale(0.72,1)">CD4+</text>
<text transform="translate(16.9,129.3) rotate(-90) scale(0.8,1)">cells/mm</text>
<text transform="translate(12.6,103.3) rotate(-90) scale(0.85,1)" style="font-size:4.6px">3</text>
<text transform="translate(236.9,254) scale(0.705,1)">Normal</text>
<text transform="translate(257.4,254) scale(0.83,1)">B-cells</text>
<text transform="translate(279.6,254) scale(0.86,1)">(/mm</text>
<text transform="translate(295.4,250) scale(0.85,1)" style="font-size:4.6px">3</text>
<text transform="translate(297.6,254) scale(0.86,1)">)</text>
</g>
</svg>
</body></html>
